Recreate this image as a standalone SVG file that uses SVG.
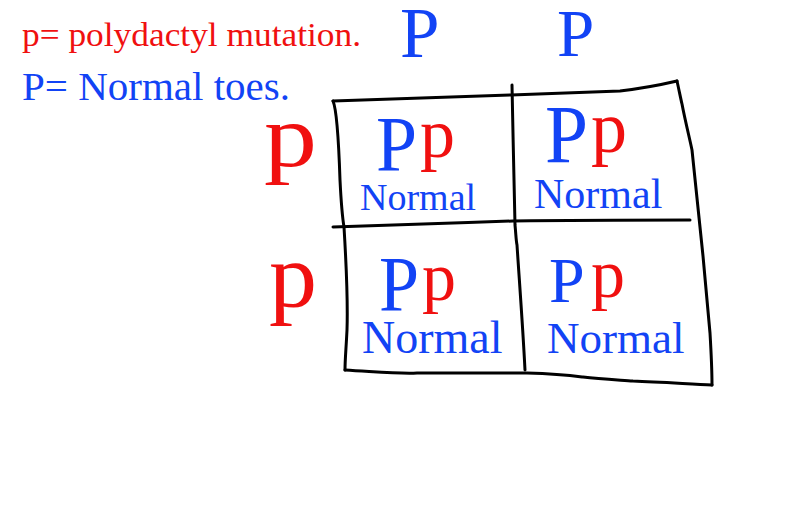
<svg xmlns="http://www.w3.org/2000/svg" width="800" height="520" viewBox="0 0 800 520">
<style>
text{font-family:"Liberation Serif","Times New Roman",serif}
.b{fill:#1243f5}
.r{fill:#f01010}
.ln{fill:none;stroke:#000;stroke-width:3;stroke-linecap:round;stroke-linejoin:round}
</style>
<rect width="800" height="520" fill="#fff"/>
<g id="legend">
<text class="r" x="22" y="46" font-size="34" textLength="339" lengthAdjust="spacingAndGlyphs">p= polydactyl mutation.</text>
<text class="b" x="22" y="100" font-size="41">P= Normal toes.</text>
</g>
<g id="parent-top">
<text class="b" x="400" y="57" font-size="71">P</text>
<text class="b" x="557" y="56" font-size="67">P</text>
</g>
<g id="parent-left">
<text class="r" x="264" y="166" font-size="88" textLength="53" lengthAdjust="spacingAndGlyphs">p</text>
<text class="r" x="269" y="307" font-size="92" textLength="48" lengthAdjust="spacingAndGlyphs">p</text>
</g>
<g id="grid">
<path class="ln" d="M333,101 C400,99 460,97 511,95 C560,93 600,92 620,91 C645,88 660,85 677,81"/>
<path class="ln" d="M677,81 C679,90 681,100 682,104 C685,120 690,140 692,150 C696,190 700,230 703,256 C706,290 709,320 710,333 C711,350 712,370 712,385"/>
<path class="ln" d="M333,101 C337,110 339,150 340,180 C341,200 342,215 344,227 C346,260 348,300 347,330 C346,350 345,360 345,370"/>
<path class="ln" d="M345,370 C380,372 400,374 417,373 C460,373 500,373 527,373 C560,374 575,376 583,377 C600,379 620,380 633,381 C660,382 690,384 712,385"/>
<path class="ln" d="M333,227 C380,225 450,223 513,221 C580,220 640,220 690,220"/>
<path class="ln" d="M512,85 C513,130 514,190 515,225 C516,235 516,240 517,245 C520,290 523,330 525,370"/>
</g>
<g id="cell-1">
<text class="b" x="376" y="170" font-size="79" textLength="41" lengthAdjust="spacingAndGlyphs">P</text>
<text class="r" x="420" y="157" font-size="70">p</text>
<text class="b" x="360" y="210" font-size="38">Normal</text>
</g>
<g id="cell-2">
<text class="b" x="545" y="162" font-size="83" textLength="43" lengthAdjust="spacingAndGlyphs">P</text>
<text class="r" x="591" y="152" font-size="72">p</text>
<text class="b" x="534" y="208" font-size="42">Normal</text>
</g>
<g id="cell-3">
<text class="b" x="379" y="310" font-size="78" textLength="40" lengthAdjust="spacingAndGlyphs">P</text>
<text class="r" x="422" y="300" font-size="68">p</text>
<text class="b" x="362" y="353" font-size="46">Normal</text>
</g>
<g id="cell-4">
<text class="b" x="549" y="302" font-size="64">P</text>
<text class="r" x="591" y="297" font-size="68">p</text>
<text class="b" x="547" y="353" font-size="45">Normal</text>
</g>
</svg>
